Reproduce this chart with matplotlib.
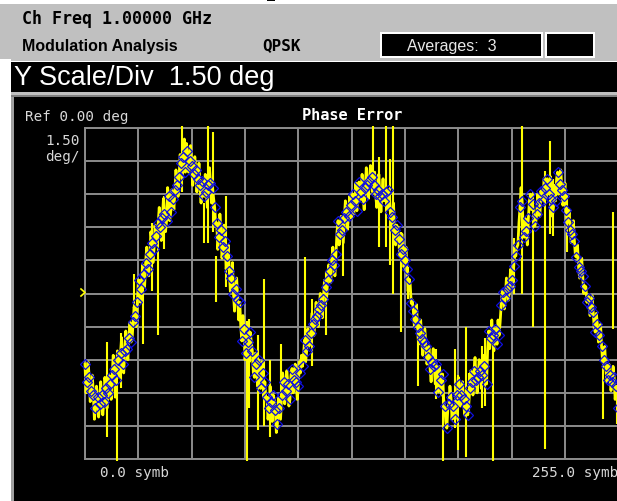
import numpy as np
import matplotlib
matplotlib.use("Agg")
import matplotlib.pyplot as plt
from matplotlib.patches import Rectangle
from matplotlib.lines import Line2D

# Phase error at each symbol decision point (deg), symbols 0..255
phase_err = [
    -3.2, -4.0, -3.8, -4.4, -4.6, -5.2, -4.7, -5.0, -4.6, -4.9, -4.3, -4.5, -4.1, -3.7, -3.4, -3.9,
    -3.0, -2.7, -3.2, -2.6, -2.5, -2.0, -2.2, -1.3, -1.0, -0.4, 0.6, 0.2, 0.9, 1.4, 1.1, 1.8,
    2.3, 2.0, 2.6, 3.2, 3.0, 3.4, 3.6, 3.3, 4.4, 3.7, 4.3, 4.7, 4.9, 5.3, 5.9, 6.2,
    5.5, 6.45, 6.0, 5.8, 5.4, 5.6, 5.2, 4.9, 5.1, 4.4, 4.6, 4.9, 5.0, 4.8, 3.9, 3.2,
    2.55, 2.9, 2.1, 2.4, 1.7, 1.0, 0.7, 0.0, 0.2, -0.3, -0.4, -2.15, -1.6, -2.7, -2.2, -1.75,
    -2.6, -3.8, -3.2, -3.0, -4.3, -3.6, -4.0, -4.7, -5.2, -4.9, -4.6, -5.3, -5.9, -5.2, -4.6, -4.0,
    -4.4, -4.1, -4.8, -3.4, -3.9, -4.0, -4.2, -3.6, -3.3, -2.1, -2.6, -2.4, -1.8, -1.4, -1.15, -1.0,
    -0.7, -0.5, -0.25, 0.3, 0.6, 1.0, 1.5, 1.3, 1.8, 3.3, 2.7, 2.9, 3.4, 3.7, 3.5, 4.0,
    4.5, 4.2, 3.75, 5.05, 4.6, 4.3, 4.8, 4.9, 5.1, 5.3, 4.9, 4.5, 4.7, 4.4, 4.5, 4.2,
    4.6, 4.7, 3.7, 3.45, 2.9, 3.1, 2.45, 1.8, 2.0, 1.5, 1.1, 0.65, -0.45, -0.8, -1.15, -1.5,
    -1.8, -2.05, -2.2, -2.4, -2.9, -3.4, -3.1, -3.3, -3.2, -4.45, -3.9, -3.65, -5.1, -6.1, -5.0, -4.7,
    -5.1, -5.7, -4.6, -4.1, -4.6, -4.8, -5.1, -5.5, -4.3, -4.0, -3.5, -3.9, -3.8, -3.5, -3.7, -3.3,
    -4.1, -1.7, -2.0, -1.9, -1.6, -2.3, -1.9, -0.5, 0.07, -0.2, 0.2, 0.35, 0.6, 1.25, 1.7, 2.2,
    3.9, 4.2, 2.55, 2.85, 3.4, 4.5, 4.05, 3.05, 3.6, 4.1, 4.65, 4.2, 4.8, 5.2, 4.5, 4.3,
    3.9, 4.2, 5.5, 4.95, 4.7, 4.4, 3.8, 3.25, 2.9, 2.7, 2.4, 1.65, 1.2, 1.0, 0.8, 0.35,
    -0.4, -0.2, -0.6, -0.85, -1.75, -1.4, -1.9, -2.4, -3.0, -3.3, -3.9, -3.7, -4.0, -3.8, -4.2, -5.2,
]

# Trace samples half way between symbols (deg)
mid_err = [
    -4.5, -3.1, -4.9, -3.7, -5.7, -4.2, -5.6, -4.0, -5.5, -3.8, -5.2, -3.7, -4.8, -2.8, -4.7, -2.6,
    -3.8, -2.0, -3.6, -1.7, -3.0, -1.3, -2.1, -0.6, -1.5, 0.6, -0.4, 1.3, 0.3, 2.1, 0.8, 2.8,
    1.4, 3.1, 2.2, 3.9, 2.4, 4.3, 2.8, 4.8, 3.3, 4.7, 3.8, 5.6, 4.4, 6.3, 5.2, 7.0,
    6.8, 5.5, 6.7, 4.9, 6.2, 4.6, 5.9, 4.1, 5.1, 5.4, 3.9, 5.7, 4.1, 4.3, 3.1, 2.0,
    3.6, 1.6, 3.1, 1.1, 2.2, 0.1, 1.4, -0.8, 0.7, -1.2, -1.5, -1.0, -3.0, -1.4, -3.1, -2.2,
    -3.6, -2.7, -4.2, -3.6, -3.1, -4.7, -4.8, -5.7, -4.2, -5.8, -4.8, -6.3, -4.7, -5.7, -3.6, -5.0,
    -3.5, -5.1, -3.7, -4.5, -3.2, -4.8, -3.1, -2.8, -2.8, -3.1, -1.6, -2.3, -0.9, -1.9, -0.4, -1.5,
    0.0, -1.1, 0.6, -0.3, 1.3, 0.5, 2.1, 0.8, 2.8, 2.2, 3.5, 2.3, 4.2, 2.9, 4.4, 3.4,
    3.6, 5.0, 4.7, 4.2, 5.4, 3.8, 5.7, 4.3, 5.8, 4.6, 5.5, 3.9, 5.4, 3.7, 5.2, 4.6,
    3.8, 4.5, 2.9, 4.1, 2.2, 3.0, 1.7, 2.7, 1.2, 2.1, 0.1, 0.4, -0.3, -1.5, -0.5, -2.3,
    -1.2, -2.8, -1.6, -3.2, -2.4, -4.0, -2.5, -4.1, -4.3, -3.3, -4.6, -4.8, -5.8, -5.2, -4.2, -5.7,
    -5.6, -4.8, -3.8, -5.1, -4.0, -5.5, -4.4, -5.0, -3.5, -4.6, -2.9, -4.5, -3.0, -4.3, -2.8, -4.0,
    -2.6, -2.5, -1.2, -2.6, -1.7, -1.2, -1.3, 0.1, -0.7, 0.7, -0.3, 1.1, 0.7, 1.8, 2.1, 3.2,
    4.8, 3.1, 3.4, 2.2, 4.2, 3.8, 3.7, 3.2, 4.5, 3.5, 4.4, 5.2, 4.3, 4.9, 5.3, 3.5,
    4.9, 5.2, 4.5, 5.6, 4.0, 5.0, 3.2, 3.8, 2.3, 3.3, 1.7, 2.2, 0.7, 1.6, 0.0, 0.3,
    -0.1, -1.0, -0.1, -1.6, -0.9, -2.2, -1.4, -3.1, -2.4, -4.0, -3.2, -4.4, -3.3, -4.8, -4.3,
]

# Transient excursions of the trace: symbol position, low and high (deg)
spike_sym = [10.5, 15.5, 17.0, 23.5, 27.5, 32.0, 35.0, 38.0, 46.5, 57.0, 59.0, 61.0, 62.5, 67.5,
             77.5, 78.5, 82.5, 85.5, 88.5, 93.5, 105.0, 108.5, 115.0, 123.5, 137.5, 140.5, 144.0,
             146.0, 147.5, 151.0, 154.5, 159.0, 168.0, 171.0, 177.0, 178.5, 182.0, 183.5, 190.0,
             191.5, 195.0, 205.0, 209.0, 214.0, 220.0, 222.5, 224.0, 230.5, 247.5, 252.5, 254.5]
spike_lo = [-6.5, -7.6, -4.3, -1.2, -2.3, 0.1, -1.9, 2.0, 4.6, 2.3, 2.3, 2.8, -0.4, 0.3,
            -7.6, -5.2, -6.2, -6.0, -6.5, -5.4, -3.05, -3.3, -1.9, 0.8, 4.5, 2.1, 2.1,
            1.3, 0.0, -1.75, -0.25, -4.2, -4.8, -7.6, -6.1, -7.1, -7.4, -5.4, -5.2,
            -5.1, -7.6, 0.0, 0.0, -1.5, -7.05, 2.7, 2.6, 1.9, -5.7, -1.6, -5.9]
spike_hi = [-2.2, -3.3, -1.8, 0.9, 1.2, 3.2, 2.9, 4.4, 7.6, 4.1, 7.6, 7.3, 1.7, 4.4,
            -1.25, -1.15, -1.9, 0.65, -3.0, -2.3, 1.65, -0.25, 1.0, 2.4, 7.6, 6.2, 7.6,
            6.1, 7.6, 2.8, 1.2, -1.6, -2.5, -4.6, -2.5, -3.7, -1.5, -3.6, -2.4,
            -2.0, -2.2, 2.5, 7.6, 4.6, 5.55, 6.9, 5.2, 4.5, -3.0, 3.7, -4.5]

n_sym = 256
scale_div = 1.5
ref_level = 0.0

W, H = 617, 502
fig = plt.figure(figsize=(W / 100, H / 100), dpi=100, facecolor="#c0c0c0")

sans = "Liberation Sans"
mono = "DejaVu Sans Mono"


def box(x0, y0, x1, y1, color, z=0):
    fig.add_artist(Rectangle((x0 / W, 1 - y1 / H), (x1 - x0) / W, (y1 - y0) / H,
                             transform=fig.transFigure, facecolor=color,
                             edgecolor="none", zorder=z))


def label(x, y, s, **kw):
    fig.text(x / W, 1 - y / H, s, va="center", **kw)


# screen frame
box(0, 0, W, 5, "white")
box(267, 0, 275, 2, "black", 1)
box(0, 60, 11, H, "white")
box(10, 62, W, 94, "white")
box(11, 63, W, 93, "black", 1)
box(11, 93, W, 96, "#c0c0c0")
box(11, 96, W, 98, "#808080")
box(11, 98, 14, H, "#a0a0a0")
box(14, 98, W, H, "black")

# header boxes
box(380, 33, 543, 59, "white")
box(382, 35, 541, 57, "black", 1)
box(545, 33, 595, 59, "white")
box(547, 35, 593, 57, "black", 1)

label(22, 19, "Ch Freq 1.00000 GHz", fontsize=12, fontweight="bold", family=mono, color="black")
label(22, 46, "Modulation Analysis", fontsize=11.5, fontweight="bold", family=sans, color="black")
label(262, 46, "QPSK", fontsize=11.5, fontweight="bold", family=mono, color="black")
label(407, 46, "Averages:  3", fontsize=11.5, family=sans, color="#e8e8e8", zorder=3)
label(14, 78, "Y Scale/Div  1.50 deg", fontsize=19.5, family=sans, color="white", zorder=3)

label(25, 117, "Ref 0.00 deg", fontsize=10.3, family=mono, color="#d8d8d8")
label(80, 141, f"{scale_div:.2f}", fontsize=10.3, family=mono, color="#d8d8d8", ha="right")
label(80, 157, "deg/", fontsize=10.3, family=mono, color="#d8d8d8", ha="right")
label(352, 116, "Phase Error", fontsize=11, fontweight="bold", family=mono, color="white", ha="center")
label(100, 473, "0.0 symb", fontsize=10.3, family=mono, color="#d8d8d8")
label(532, 473, f"{n_sym - 1:.1f} symb", fontsize=10.3, family=mono, color="#d8d8d8")

# reference level marker
fig.add_artist(Line2D([81 / W, 85 / W, 81 / W], [1 - 290 / H, 1 - 293.5 / H, 1 - 297 / H],
                      color="yellow", lw=1.2, transform=fig.transFigure))

# graticule: 10 x 10 divisions
ax = fig.add_axes([85 / W, (H - 460) / H, 533.3 / W, 331 / H])
ax.set_facecolor("black")
ax.set_xlim(0, n_sym - 1)
ax.set_ylim(ref_level - 5 * scale_div, ref_level + 5 * scale_div)
ax.set_xticks(np.linspace(0, n_sym - 1, 11))
ax.set_yticks(np.linspace(ref_level - 5 * scale_div, ref_level + 5 * scale_div, 11))
ax.tick_params(length=0, labelbottom=False, labelleft=False)
ax.grid(True, color="#8c8c8c", lw=1.4)
ax.set_axisbelow(True)
for sp in ax.spines.values():
    sp.set_color("#8c8c8c")
    sp.set_linewidth(1.4)

sym = np.arange(n_sym)
trace_x = np.arange(0, n_sym - 1 + 0.5, 0.5)
trace_y = np.empty(len(trace_x))
trace_y[0::2] = phase_err
trace_y[1::2] = mid_err

ax.plot(trace_x, trace_y, color="#ffff00", lw=2.0, zorder=3, clip_on=False)
ax.vlines(spike_sym, spike_lo, spike_hi, color="#ffff00", lw=1.5, zorder=3, clip_on=False)
ax.plot(sym, phase_err, ls="none", marker="D", ms=5.5, mfc="none", mec="#1010e0",
        mew=0.9, zorder=4, clip_on=False)

fig.savefig("out.png", dpi=100, facecolor=fig.get_facecolor())
